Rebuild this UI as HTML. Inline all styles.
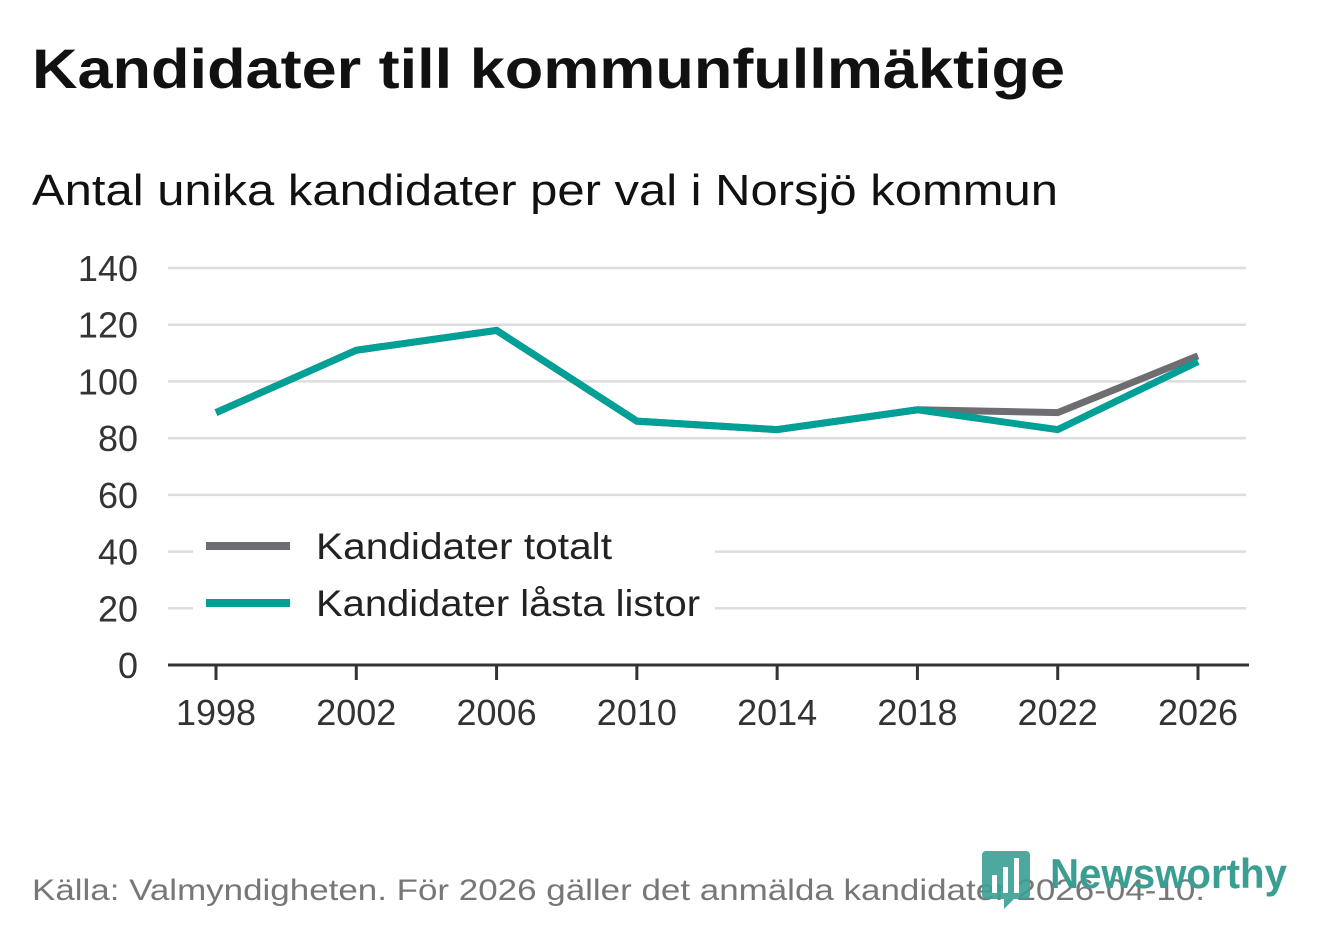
<!DOCTYPE html>
<html><head><meta charset="utf-8"><style>
html,body{margin:0;padding:0;background:#fff;}
svg{display:block;font-family:"Liberation Sans",sans-serif;}
</style></head><body>
<svg width="1322" height="939" viewBox="0 0 1322 939">
<text x="32" y="88" font-size="56" font-weight="bold" fill="#111" textLength="1033" lengthAdjust="spacingAndGlyphs">Kandidater till kommunfullmäktige</text>
<text x="32" y="205" font-size="44" fill="#111" textLength="1026" lengthAdjust="spacingAndGlyphs">Antal unika kandidater per val i Norsjö kommun</text>
<g id="grid"></g>
<g id="yticks"></g>
<g id="xticks"></g>
<g id="series"></g>
<g>
<rect x="193" y="522" width="522" height="108" fill="#fff"/>
<line x1="206" y1="546" x2="290" y2="546" stroke="#6e6d72" stroke-width="8"/>
<text x="316" y="559" font-size="37" fill="#222" textLength="296" lengthAdjust="spacingAndGlyphs">Kandidater totalt</text>
<line x1="206" y1="603" x2="290" y2="603" stroke="#00a096" stroke-width="8"/>
<text x="316" y="616" font-size="37" fill="#222" textLength="384" lengthAdjust="spacingAndGlyphs">Kandidater låsta listor</text>
</g>
<text x="32" y="900" font-size="30" fill="#777" textLength="1173" lengthAdjust="spacingAndGlyphs">Källa: Valmyndigheten. För 2026 gäller det anmälda kandidater 2026-04-10.</text>
<g>
<path d="M986 851 h40 a4 4 0 0 1 4 4 v40 a4 4 0 0 1 -4 4 h-12 l-10 10 v-10 h-18 a4 4 0 0 1 -4 -4 v-40 a4 4 0 0 1 4 -4z" fill="#3a9e92" opacity="0.9"/>
<rect x="992" y="875" width="5" height="18" fill="#fff"/>
<rect x="1003" y="867" width="5" height="26" fill="#fff"/>
<rect x="1014" y="858" width="5" height="35" fill="#fff"/>
<text x="1050" y="888" font-size="42" font-weight="bold" fill="#3a9e92" textLength="237" lengthAdjust="spacingAndGlyphs">Newsworthy</text>
</g>
</svg>
<script>
const years = [1998, 2002, 2006, 2010, 2014, 2018, 2022, 2026];
const totalt = [89, 111, 118, 86, 83, 90, 89, 109];
const lasta = [89, 111, 118, 86, 83, 90, 83, 107];
const yTicks = [0, 20, 40, 60, 80, 100, 120, 140];
const NS = "http://www.w3.org/2000/svg";
const xs = y => 216 + (y - 1998) * (1198 - 216) / 28;
const ys = v => 665 - v * (665 - 268) / 140;
function mk(tag, attrs, parent){const e=document.createElementNS(NS,tag);for(const k in attrs)e.setAttribute(k,attrs[k]);parent.appendChild(e);return e;}
const grid=document.getElementById('grid'), yt=document.getElementById('yticks'), xt=document.getElementById('xticks'), se=document.getElementById('series');
yTicks.forEach(t=>{
  if(t>0){const l=mk('line',{x1:168,x2:1246,y1:ys(t),y2:ys(t),stroke:'#dddddd','stroke-width':2.5},grid);
  
  }
  const tx=mk('text',{x:138,y:ys(t)+13,'font-size':36,fill:'#333','text-anchor':'end'},yt);
  tx.textContent=t;
  
  
});
const ax=mk('line',{x1:168,x2:1249,y1:665,y2:665,stroke:'#333','stroke-width':3},xt);


years.forEach(y=>{
  const tk=mk('line',{x1:xs(y),x2:xs(y),y1:665,y2:680,stroke:'#333','stroke-width':3},xt);
  
  
  const tx=mk('text',{x:xs(y),y:725,'font-size':36,fill:'#333','text-anchor':'middle'},xt);
  tx.textContent=y;
  
  
});
function line(vals,color,name){
  const p=mk('polyline',{points:vals.map((v,i)=>xs(years[i])+','+ys(v)).join(' '),fill:'none',stroke:color,'stroke-width':7,'stroke-linejoin':'miter'},se);
  
  
}
line(totalt,'#6e6d72','line-kandidater-totalt');
line(lasta,'#00a096','line-kandidater-lasta-listor');
</script>
</body></html>
